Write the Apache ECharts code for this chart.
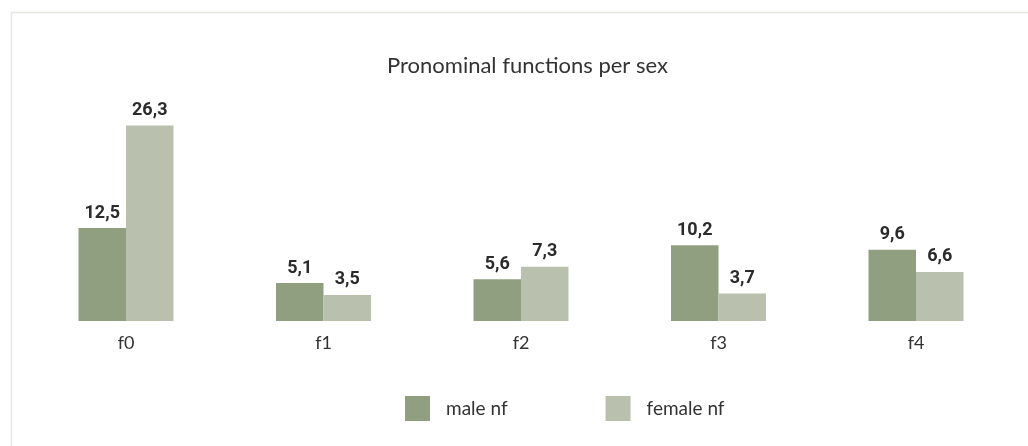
<!DOCTYPE html>
<html>
<head>
<meta charset="utf-8">
<script src="https://cdn.jsdelivr.net/npm/echarts@6/dist/echarts.min.js"></script>
<style>
html,body{margin:0;padding:0;background:#fff;}
#chart{width:1028px;height:446px;}
</style>
</head>
<body>
<div id="chart"></div>
<script>
var categories = ['f0', 'f1', 'f2', 'f3', 'f4'];
var maleValues = [12.5, 5.1, 5.6, 10.2, 9.6];
var femaleValues = [26.3, 3.5, 7.3, 3.7, 6.6];
var seriesNames = ['male nf', 'female nf'];
var titleText = 'Pronominal functions per sex';

var chart = echarts.init(document.getElementById('chart'));
function fmt(p) { return String(p.value).replace('.', ','); }
var labelStyle = {
  show: true, position: 'top', distance: 6,
  fontFamily: 'Roboto', fontWeight: 'bold', fontSize: 18, color: '#2b2b2b',
  formatter: fmt
};
chart.setOption({
  backgroundColor: '#ffffff',
  animation: false,
  title: {
    text: titleText, left: 382, top: 50,
    textStyle: { fontFamily: 'Lato', fontWeight: 'normal', fontSize: 22, color: '#333333' }
  },
  legend: {
    left: 405, top: 396, padding: 0, icon: 'rect', itemWidth: 25, itemHeight: 25, itemGap: 98,
    textStyle: { fontFamily: 'Lato', fontSize: 19, color: '#333333', padding: [0, 0, 0, 11] },
    data: seriesNames
  },
  grid: { left: 27.25, right: 13.25, top: 98, bottom: 125, containLabel: false },
  xAxis: {
    type: 'category', data: categories,
    axisLine: { show: false }, axisTick: { show: false },
    axisLabel: { margin: 13, fontFamily: 'Lato', fontSize: 18, color: '#333333' }
  },
  yAxis: {
    type: 'value', min: 0, max: 30, show: false, splitLine: { show: false }
  },
  graphic: [
    { type: 'line', shape: { x1: 11.5, y1: 12, x2: 11.5, y2: 446 }, style: { stroke: '#e7e7e1', lineWidth: 1.5 } },
    { type: 'line', shape: { x1: 11, y1: 12.5, x2: 1028, y2: 12.5 }, style: { stroke: '#e7e7e1', lineWidth: 1.5 } }
  ],
  series: [
    { name: seriesNames[0], type: 'bar', data: maleValues, barWidth: 47.5, barGap: '0%',
      itemStyle: { color: '#8f9f80' }, label: labelStyle },
    { name: seriesNames[1], type: 'bar', data: femaleValues, barWidth: 47.5, barGap: '0%',
      itemStyle: { color: '#b9c1ae' }, label: labelStyle }
  ]
});
</script>
</body>
</html>
